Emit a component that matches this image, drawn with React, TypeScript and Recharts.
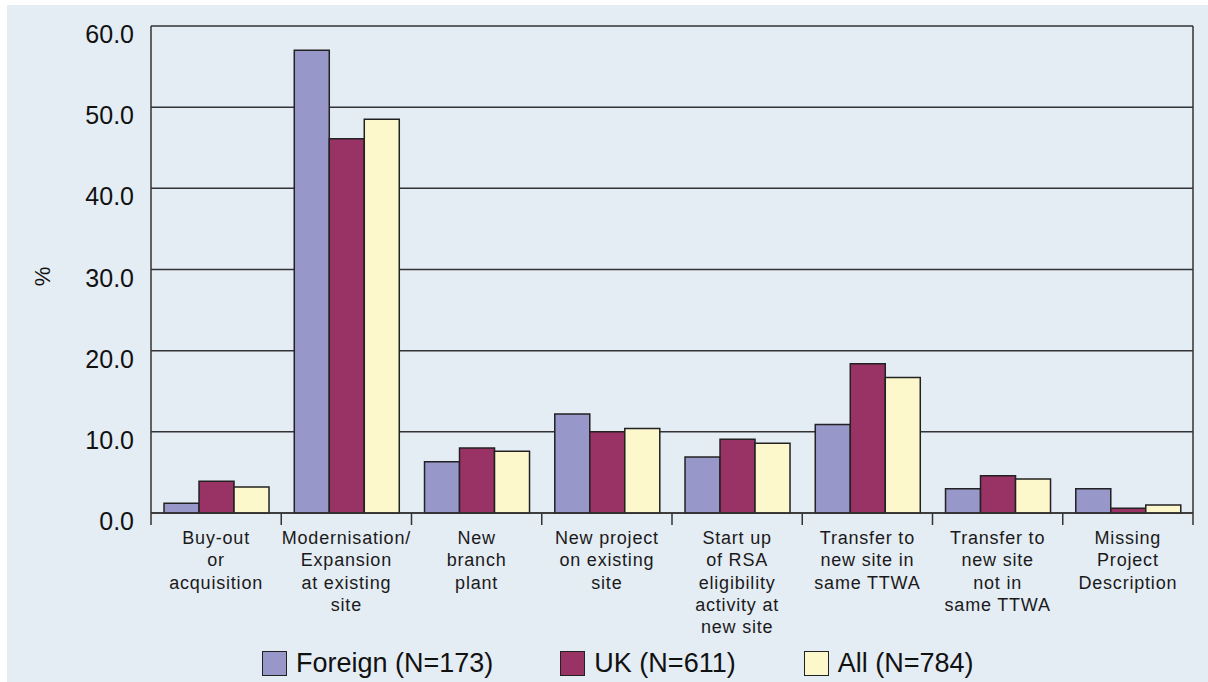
import React from 'react';
import { BarChart, Bar, XAxis, YAxis, CartesianGrid, Legend } from 'recharts';

const categories = [
  'Buy-out or acquisition',
  'Modernisation/ Expansion at existing site',
  'New branch plant',
  'New project on existing site',
  'Start up of RSA eligibility activity at new site',
  'Transfer to new site in same TTWA',
  'Transfer to new site not in same TTWA',
  'Missing Project Description',
];
const tickLabelLines = [
  ['Buy-out', 'or', 'acquisition'],
  ['Modernisation/', 'Expansion', 'at existing', 'site'],
  ['New', 'branch', 'plant'],
  ['New project', 'on existing', 'site'],
  ['Start up', 'of RSA', 'eligibility', 'activity at', 'new site'],
  ['Transfer to', 'new site in', 'same TTWA'],
  ['Transfer to', 'new site', 'not in', 'same TTWA'],
  ['Missing', 'Project', 'Description'],
];
const foreignValues = [1.2, 57.0, 6.3, 12.2, 6.9, 10.9, 3.0, 3.0];
const ukValues = [3.9, 46.1, 8.0, 10.0, 9.1, 18.4, 4.6, 0.6];
const allValues = [3.2, 48.5, 7.6, 10.4, 8.6, 16.7, 4.2, 1.0];
const yTicks = [0, 10, 20, 30, 40, 50, 60];
const seriesNames = ['Foreign (N=173)', 'UK (N=611)', 'All (N=784)'];
const seriesColors = ['#9797c9', '#993366', '#fcf8cc'];

const data = categories.map((c, i) => ({
  name: c,
  foreign: foreignValues[i],
  uk: ukValues[i],
  all: allValues[i],
}));

const CHART_W = 1201;
const CHART_H = 677;
const MARGIN = { top: 21, right: 14, left: 0, bottom: 49 };
const Y_AXIS_W = 144;
const PLOT_W = CHART_W - MARGIN.left - MARGIN.right - Y_AXIS_W - 1;
const BAND = PLOT_W / categories.length;
const FONT = '"Liberation Sans", Arial, Helvetica, sans-serif';

const CategoryTick = (props: any) => {
  const { x, y, payload, index } = props;
  const idx = typeof index === 'number' ? index : categories.indexOf(payload.value);
  const lines = tickLabelLines[idx] || [String(payload.value)];
  const left = x - BAND / 2;
  const right = x + BAND / 2;
  return (
    <g>
      <line x1={left} y1={y} x2={left} y2={y + 12} stroke="#333" strokeWidth={1.5} />
      {idx === categories.length - 1 && (
        <line x1={right} y1={y} x2={right} y2={y + 12} stroke="#333" strokeWidth={1.5} />
      )}
      <text
        x={x}
        y={y}
        textAnchor="middle"
        fill="#1a1a1a"
        fontSize={18}
        fontFamily={FONT}
        style={{ letterSpacing: '0.8px' }}
      >
        {lines.map((l, i) => (
          <tspan key={i} x={x} dy={i === 0 ? 31 : 22.3}>
            {l}
          </tspan>
        ))}
      </text>
    </g>
  );
};

const ValueTick = (props: any) => {
  const { x, y, payload } = props;
  return (
    <text
      x={x}
      y={y + 8}
      textAnchor="end"
      dominantBaseline="central"
      fontSize={25}
      fontFamily={FONT}
      fill="#111"
    >
      {Number(payload.value).toFixed(1)}
    </text>
  );
};

const YLabel = (props: any) => {
  const { viewBox } = props;
  const cx = 35;
  const cy = viewBox.y + viewBox.height / 2 + 7;
  return (
    <text
      x={cx}
      y={cy}
      transform={`rotate(-90 ${cx} ${cy})`}
      textAnchor="middle"
      dominantBaseline="central"
      fontSize={22}
      fontFamily={FONT}
      fill="#111"
    >
      %
    </text>
  );
};

const legendGaps = [0, 67, 68];
const LegendContent = () => (
  <div style={{ display: 'flex', alignItems: 'center', fontFamily: FONT }}>
    {seriesNames.map((n, i) => (
      <div key={n} style={{ display: 'flex', alignItems: 'center', marginLeft: legendGaps[i] }}>
        <div
          style={{
            width: 23,
            height: 23,
            background: seriesColors[i],
            border: '1.5px solid #222',
            marginRight: 9,
          }}
        />
        <span style={{ fontSize: 27, color: '#111', lineHeight: '30px' }}>{n}</span>
      </div>
    ))}
  </div>
);

export default function App() {
  return (
    <div
      style={{
        position: 'absolute',
        left: 7,
        top: 5,
        width: CHART_W,
        height: CHART_H,
        background: '#e4ecf4',
      }}
    >
      <BarChart
        width={CHART_W}
        height={CHART_H}
        data={data}
        margin={MARGIN}
        barCategoryGap="10%"
        barGap={0}
      >
        <CartesianGrid vertical={false} stroke="#333" strokeWidth={1.5} />
        <XAxis
          dataKey="name"
          interval={0}
          axisLine={{ stroke: '#333', strokeWidth: 1.5 }}
          tickLine={false}
          tickSize={0}
          tickMargin={0}
          height={120}
          tick={<CategoryTick />}
        />
        <YAxis
          width={Y_AXIS_W}
          domain={[0, 60]}
          ticks={yTicks}
          interval={0}
          axisLine={{ stroke: '#333', strokeWidth: 1.5 }}
          tickLine={false}
          tickSize={0}
          tickMargin={17}
          tick={<ValueTick />}
          label={<YLabel />}
        />
        <YAxis
          yAxisId="right"
          orientation="right"
          width={1}
          domain={[0, 60]}
          tick={false}
          tickLine={false}
          axisLine={{ stroke: '#333', strokeWidth: 1.5 }}
        />
        <Legend
          layout="horizontal"
          verticalAlign="middle"
          align="center"
          content={<LegendContent />}
          wrapperStyle={{ position: 'absolute', left: 255, top: 643, width: 'auto' }}
        />
        <Bar dataKey="foreign" name={seriesNames[0]} fill={seriesColors[0]} stroke="#222" strokeWidth={1.5} isAnimationActive={false} />
        <Bar dataKey="uk" name={seriesNames[1]} fill={seriesColors[1]} stroke="#222" strokeWidth={1.5} isAnimationActive={false} />
        <Bar dataKey="all" name={seriesNames[2]} fill={seriesColors[2]} stroke="#222" strokeWidth={1.5} isAnimationActive={false} />
      </BarChart>
    </div>
  );
}
